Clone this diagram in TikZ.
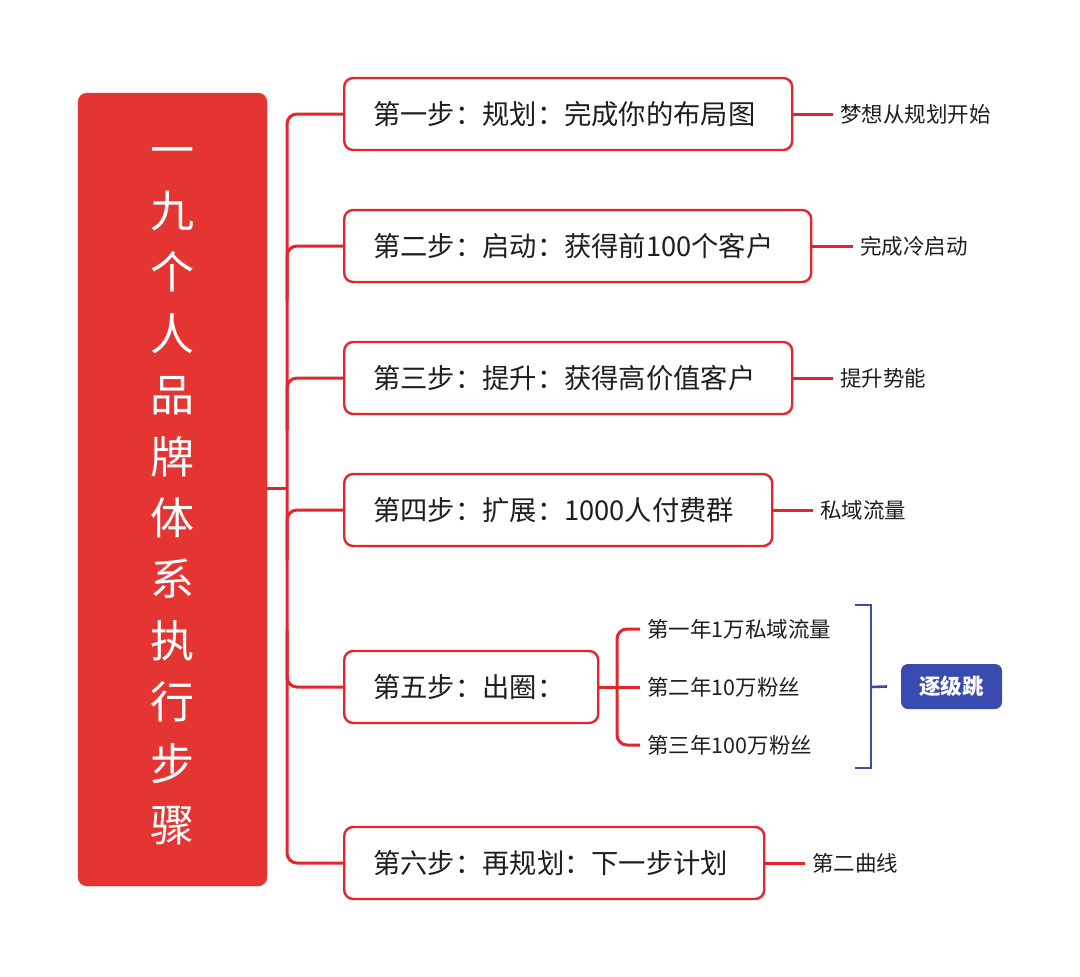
\documentclass[tikz,border=0pt]{standalone}
\usepackage{fontspec}
\setmainfont{Noto Sans CJK SC}
\newfontfamily\cjk{Noto Sans CJK SC}
\definecolor{mainred}{HTML}{E53532}
\definecolor{linered}{HTML}{E3262B}
\definecolor{mblue}{HTML}{3A4BAF}
\definecolor{txt}{HTML}{1E1E1E}
\begin{document}
\begin{tikzpicture}[x=1pt,y=-1pt,
  stepbox/.style={draw=linered,line width=2.4pt,fill=white,rounded corners=9pt,anchor=west,minimum height=72pt,inner sep=0pt},
  steptxt/.style={anchor=west,inner sep=0pt,text=txt,font=\cjk\fontsize{27.3}{32}\selectfont},
  conn/.style={draw=linered,line width=3pt,rounded corners=10pt},
  lab/.style={anchor=west,inner sep=0pt,text=txt,font=\cjk\fontsize{21.5}{25}\selectfont},
  vchar/.style={text=white,font=\cjk\fontsize{44}{46}\selectfont,inner sep=0pt}]
\useasboundingbox (0,0) rectangle (1080,977);
% root
\node[draw=mainred,fill=mainred,rounded corners=9pt,minimum width=189pt,minimum height=793pt,inner sep=0pt] (root) at (172.5,489.5) {};
\foreach \c [count=\i] in {一,九,个,人,品,牌,体,系,执,行,步,骤}{
  \node[vchar,anchor=base] (v\i) at (172,166+61.4*\i-61.4) {\c};
}
% step boxes
\node[stepbox,minimum width=448pt] (s1) at (343,114) {};
\node[steptxt] (t1) at (373,114) {第一步：规划：完成你的布局图};
\node[stepbox,minimum width=467pt] (s2) at (343,246) {};
\node[steptxt] (t2) at (373,246) {第二步：启动：获得前100个客户};
\node[stepbox,minimum width=448pt] (s3) at (343,378) {};
\node[steptxt] (t3) at (373,378) {第三步：提升：获得高价值客户};
\node[stepbox,minimum width=428pt] (s4) at (343,510) {};
\node[steptxt] (t4) at (373,510) {第四步：扩展：1000人付费群};
\node[stepbox,minimum width=254pt] (s5) at (343,687) {};
\node[steptxt] (t5) at (373,687) {第五步：出圈：};
\node[stepbox,minimum width=420pt] (s6) at (343,863) {};
\node[steptxt] (t6) at (373,863) {第六步：再规划：下一步计划};
% trunk
\coordinate (tj) at (287,488);
\draw[conn] (root.east|-tj) -- (tj);
\draw[conn] (s1.west) -- (287,114) -- (287,488);
\draw[conn] (s6.west) -- (287,863) -- (287,488);
\draw[conn] (s2.west) -- (287,246) -- (287,300);
\draw[conn] (s3.west) -- (287,378) -- (287,430);
\draw[conn] (s4.west) -- (287,510) -- (287,560);
\draw[conn] (s5.west) -- (287,687) -- (287,630);
% secondary labels
\node[lab] (l1) at (840,114) {梦想从规划开始};
\node[lab] (l2) at (860,246) {完成冷启动};
\node[lab] (l3) at (840,378) {提升势能};
\node[lab] (l4) at (820,510) {私域流量};
\node[lab] (l6) at (812,863) {第二曲线};
\draw[draw=linered,line width=3pt] (s1.east) -- ([xshift=-7pt]l1.west);
\draw[draw=linered,line width=3pt] (s2.east) -- ([xshift=-7pt]l2.west);
\draw[draw=linered,line width=3pt] (s3.east) -- ([xshift=-7pt]l3.west);
\draw[draw=linered,line width=3pt] (s4.east) -- ([xshift=-7pt]l4.west);
\draw[draw=linered,line width=3pt] (s6.east) -- ([xshift=-7pt]l6.west);
% step 5 children
\node[lab] (c1) at (647,629) {第一年1万私域流量};
\node[lab] (c2) at (647,687) {第二年10万粉丝};
\node[lab] (c3) at (647,745) {第三年100万粉丝};
\coordinate (cj) at (617,687);
\draw[conn] (s5.east) -- (cj) -- ([xshift=-7pt]c2.west);
\draw[conn] ([xshift=-7pt]c1.west) -- (617,629) -- (cj);
\draw[conn] ([xshift=-7pt]c3.west) -- (617,745) -- (cj);
% blue bracket
\node[fill=mblue,rounded corners=7pt,minimum width=101pt,minimum height=45pt,inner sep=0pt,text=white,font=\cjk\bfseries\fontsize{21.5}{25}\selectfont] (jump) at (951.5,686.5) {逐级跳};
\coordinate (b1) at (855,605);
\coordinate (b2) at (855,768);
\coordinate (bm) at (871,687);
\draw[draw=mblue,line width=2.6pt] (b1) -- (871,605) -- (871,768) -- (b2);
\draw[draw=mblue,line width=2.6pt] (bm) -- ([xshift=-14pt]jump.west);
\end{tikzpicture}
\end{document}
